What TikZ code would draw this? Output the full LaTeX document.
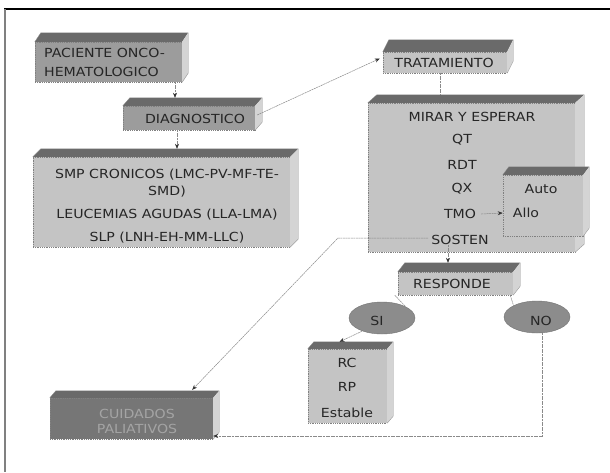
\documentclass[tikz,border=0pt]{standalone}
\usepackage{fontspec}
\setmainfont[FakeStretch=1.13]{DejaVu Sans}
\usetikzlibrary{shapes.geometric,arrows.meta}
\definecolor{frontA}{HTML}{9C9C9C}
\definecolor{frontB}{HTML}{C4C4C4}
\definecolor{topC}{HTML}{6A6A6A}
\definecolor{sideC}{HTML}{D4D4D4}
\definecolor{darkF}{HTML}{767676}
\definecolor{lensF}{HTML}{8C8C8C}
\definecolor{lineC}{HTML}{8A8A8A}
\definecolor{embossT}{HTML}{A4A4A4}
\tikzset{
  x=1pt, y=-1pt,
  txt/.style={font=\fontsize{12.5}{17}\selectfont, inner sep=0pt, align=center, text=black!85},
  front/.style={rectangle, inner sep=0pt, draw=black!50, dash pattern=on 1pt off 0.8pt, line width=0.4pt, txt},
  conn/.style={draw=lineC, line width=0.5pt, dash pattern=on 2pt off 0.6pt},
  arr/.style={conn, -{Stealth[length=5pt,width=4pt,black!80,sep=0pt]}},
  lens/.style={ellipse, fill=lensF, draw=black!55, inner sep=0pt, minimum width=66pt, minimum height=32pt, txt}
}
\newcommand\boxfaces[3]{%
  \fill[topC] (#1.north west) -- ++(#2,#3) -- ([shift={(#2,#3)}]#1.north east) -- (#1.north east) -- cycle;
  \fill[sideC] (#1.north east) -- ++(#2,#3) -- ([shift={(#2,#3)}]#1.south east) -- (#1.south east) -- cycle;
  \draw[black!45, line width=0.3pt] (#1.north west) -- ++(#2,#3) -- ([shift={(#2,#3)}]#1.north east) -- ([shift={(#2,#3)}]#1.south east) -- (#1.south east);}
\begin{document}
\begin{tikzpicture}
\useasboundingbox (0,0) rectangle (610,472);
\fill[white] (0,0) rectangle (610,472);
% page frame
\draw[black, line width=2pt] (4,9) -- (610,9);
\draw[gray, line width=1.6pt] (5,9) -- (5,472);

% boxes
\node[front, fill=frontA, minimum width=147pt, minimum height=40pt] (pac) at (108.5,62) {};
\boxfaces{pac}{6pt}{9pt}
\node[txt, anchor=west, align=left, font=\fontsize{12.5}{19}\selectfont] (pact) at (44,62.5) {PACIENTE ONCO-\\HEMATOLOGICO};

\node[front, fill=frontA, minimum width=132pt, minimum height=24pt] (diag) at (189,118) {};
\boxfaces{diag}{7pt}{8pt}
\node[txt] (diagt) at (195,118.5) {DIAGNOSTICO};

\node[front, fill=frontB, minimum width=257pt, minimum height=90pt] (smp) at (161.5,202) {};
\boxfaces{smp}{8pt}{8pt}
\node[txt] (smpt) at (167,206) {SMP CRONICOS (LMC-PV-MF-TE-\\SMD)\\[6pt]LEUCEMIAS AGUDAS (LLA-LMA)\\[6pt]SLP (LNH-EH-MM-LLC)};

\node[front, fill=frontB, minimum width=124pt, minimum height=21pt] (trat) at (445,62.5) {};
\boxfaces{trat}{6pt}{12pt}
\node[txt] (tratt) at (444,63) {TRATAMIENTO};

\node[front, fill=frontB, minimum width=207pt, minimum height=149pt] (big) at (471.5,177.5) {};
\boxfaces{big}{9pt}{8pt}
\node[txt] (mirar) at (472,117) {MIRAR Y ESPERAR};
\node[txt] (qt) at (462,140) {QT};
\node[txt] (rdt) at (462,164.5) {RDT};
\node[txt] (qx) at (462,189) {QX};
\node[txt] (tmo) at (460,214) {TMO};
\node[txt] (sost) at (460,240) {SOSTEN};

\node[front, fill=frontB, minimum width=80pt, minimum height=61pt] (auto) at (543,205.5) {};
\boxfaces{auto}{6pt}{8pt}
\node[txt] (autot) at (541,189) {Auto};
\node[txt] (allo) at (526,213) {Allo};

\node[front, fill=frontB, minimum width=115pt, minimum height=23pt] (resp) at (455.5,283.5) {};
\boxfaces{resp}{7pt}{9pt}
\node[txt] (respt) at (452,284) {RESPONDE};

\node[lens] (si) at (382,318) {};
\node[txt] (sit) at (377,321) {SI};
\node[lens] (no) at (537,317) {};
\node[txt] (not) at (541,321) {NO};

\node[front, fill=frontB, minimum width=79pt, minimum height=74pt] (rc) at (347.5,386) {};
\boxfaces{rc}{6pt}{7pt}
\node[txt] (rct) at (347,363) {RC};
\node[txt] (rpt) at (347,387) {RP};
\node[txt] (estt) at (347,413) {Estable};

\node[front, fill=darkF, minimum width=163pt, minimum height=41pt] (cuid) at (131.5,418.5) {};
\boxfaces{cuid}{6pt}{7pt}
\node[txt, text=embossT, font=\fontsize{12.5}{15}\selectfont] (cuidt) at (137,421) {CUIDADOS\\PALIATIVOS};

% connectors
\draw[arr] (pac.south -| 175,0) -- ([yshift=8pt]diag.north -| 175,0);
\draw[arr] (diag.south -| 177,0) -- ([yshift=8pt]smp.north -| 177,0);
\draw[arr] ([xshift=2pt,yshift=3pt]diag.east) -- ([xshift=-3pt,yshift=4pt]trat.west);
\draw[conn] (trat.south -| 440,0) -- ([yshift=8pt]big.north -| 440,0);
\draw[arr] (tmo.east) ++(5pt,0) -- ([xshift=-10pt]allo.west);
\coordinate (bend) at (338,238);
\draw[arr] (sost.west |- bend) ++(-3pt,0) -- (bend) -- ([xshift=-21pt,yshift=8pt]cuid.north east);
\draw[arr] (sost.south -| 448,0) -- ([yshift=9pt]resp.north -| 448,0);
\draw[conn] ([xshift=-3pt]resp.south west) -- (si.north east);
\draw[conn] ([xshift=-3pt]resp.south east) -- (no.north west);
\draw[arr] ([xshift=-20pt,yshift=3pt]si.south) -- ([xshift=-8pt,yshift=7pt]rc.north);
\coordinate (nocorner) at (542,436);
\draw[arr] (no.south -| nocorner) -- (nocorner) -- (cuid.east |- nocorner);
\end{tikzpicture}
\end{document}
